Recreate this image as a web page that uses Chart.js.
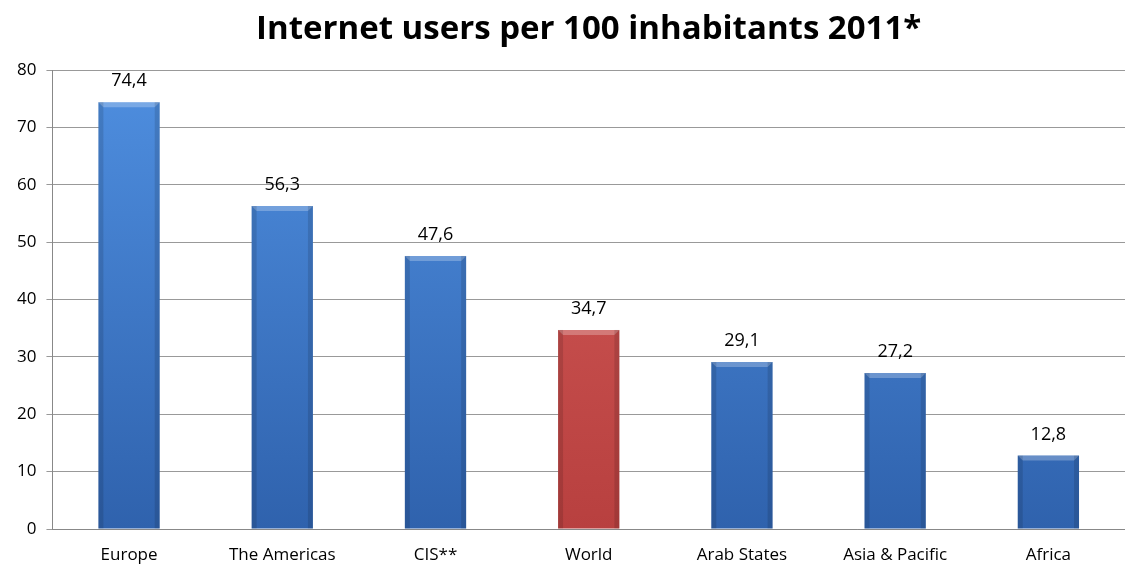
<!DOCTYPE html>
<html>
<head>
<meta charset="utf-8">
<script src="https://cdn.jsdelivr.net/npm/chart.js@4"></script>
<style>
  body { margin: 0; background: #fff; }
  #wrap { width: 1125px; height: 567px; }
</style>
</head>
<body>
<div id="wrap"><canvas id="grafico"></canvas></div>
<script>
const regioes = ["Europe", "The Americas", "CIS**", "World", "Arab States", "Asia & Pacific", "Africa"];
const usuarios = [74.4, 56.3, 47.6, 34.7, 29.1, 27.2, 12.8];
const destaque = "World";
const titulo = "Internet users per 100 inhabitants 2011*";

const azul = ["#4f8fe0", "#2f62ad"];
const vermelho = ["#d45c5a", "#b8403f"];

function corBarra(ctx) {
  const chart = ctx.chart;
  const area = chart.chartArea;
  if (!area) return azul[0];
  const cores = regioes[ctx.dataIndex] === destaque ? vermelho : azul;
  const g = chart.ctx.createLinearGradient(0, area.top, 0, area.bottom);
  g.addColorStop(0, cores[0]);
  g.addColorStop(1, cores[1]);
  return g;
}

// titulo centrado na area do grafico
const tituloPlugin = {
  id: "tituloPlugin",
  afterDraw(chart) {
    const c = chart.ctx;
    const a = chart.chartArea;
    c.save();
    c.font = "bold 33px 'Open Sans', sans-serif";
    c.fillStyle = "#000";
    c.textAlign = "center";
    c.textBaseline = "middle";
    c.fillText(titulo, (a.left + a.right) / 2, 30);
    c.restore();
  }
};

// rotulos em cima das barras, com virgula decimal
const rotulos = {
  id: "rotulos",
  afterDatasetsDraw(chart) {
    const c = chart.ctx;
    const meta = chart.getDatasetMeta(0);
    c.save();
    c.font = "18px 'Open Sans', sans-serif";
    c.fillStyle = "#000";
    c.textAlign = "center";
    c.textBaseline = "middle";
    meta.data.forEach((bar, i) => {
      c.fillText(usuarios[i].toFixed(1).replace(".", ","), bar.x, bar.y - 21);
    });
    c.restore();
  }
};

// bisel simples nas bordas das barras
const bisel = {
  id: "bisel",
  afterDatasetsDraw(chart) {
    const c = chart.ctx;
    const meta = chart.getDatasetMeta(0);
    c.save();
    meta.data.forEach((bar) => {
      const l = bar.x - bar.width / 2, r = bar.x + bar.width / 2;
      const t = bar.y, b = bar.base, s = 5;
      c.fillStyle = "rgba(255,255,255,0.25)";
      c.beginPath();
      c.moveTo(l, t); c.lineTo(r, t); c.lineTo(r - s, t + s); c.lineTo(l + s, t + s);
      c.closePath(); c.fill();
      c.fillStyle = "rgba(0,0,0,0.12)";
      c.fillRect(l, t, s, b - t);
      c.fillRect(r - s, t, s, b - t);
    });
    c.restore();
  }
};

new Chart(document.getElementById("grafico"), {
  type: "bar",
  data: {
    labels: regioes,
    datasets: [{
      data: usuarios,
      backgroundColor: corBarra,
      borderWidth: 0,
      barPercentage: 0.4,
      categoryPercentage: 1
    }]
  },
  options: {
    responsive: true,
    maintainAspectRatio: false,
    animation: false,
    layout: { padding: { left: 7, right: 0, top: 70, bottom: 0 } },
    plugins: {
      legend: { display: false },
      tooltip: { enabled: false },
      title: { display: false }
    },
    scales: {
      x: {
        grid: { display: false },
        border: { color: "#888" },
        ticks: { color: "#000", font: { family: "'Open Sans', sans-serif", size: 17 }, padding: 8 },
        afterFit(scale) { scale.height = 38; }
      },
      y: {
        min: 0,
        max: 80,
        ticks: { stepSize: 10, color: "#000", font: { family: "'Open Sans', sans-serif", size: 17 }, padding: 10 },
        grid: { color: "#999", tickLength: 6 },
        border: { color: "#888" }
      }
    }
  },
  plugins: [bisel, rotulos, tituloPlugin]
});
</script>
</body>
</html>
